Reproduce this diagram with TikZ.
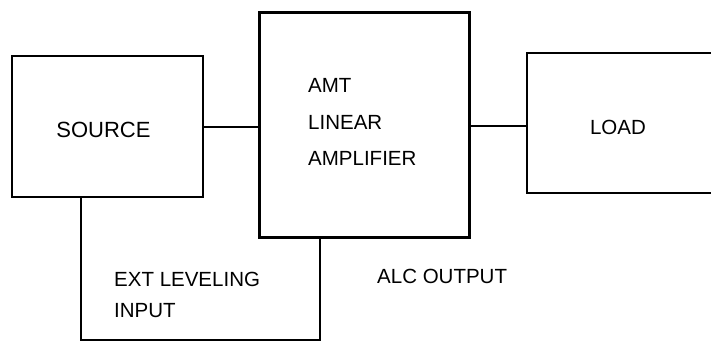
\documentclass[tikz,border=0pt]{standalone}
\usepackage{fontspec}
\setmainfont{Liberation Sans}
\begin{document}
\begin{tikzpicture}[x=1pt,y=-1pt,
  blk/.style={draw,line width=1.4pt,inner sep=0pt},
  ampblk/.style={draw,line width=3pt,inner sep=0pt},
  wire/.style={line width=1.4pt},
  txt/.style={font=\fontsize{20.5}{24}\selectfont,inner sep=0pt},
  lbl/.style={txt,anchor=west}]
\useasboundingbox (0,0) rectangle (711,343);
\clip (0,0) rectangle (711,343);
\node[blk,minimum width=191pt,minimum height=141pt] (src) at (107.5,126.5) {};
\node[ampblk,minimum width=210pt,minimum height=225pt] (amp) at (364,124.5) {};
\node[blk,minimum width=190pt,minimum height=140pt] (load) at (622,123) {};
\node[txt,font=\fontsize{22}{24}\selectfont] (srct) at (103.5,129.5) {SOURCE};
\node[txt] (loadt) at (618,127) {LOAD};
\node[lbl] (amt) at (308,85) {AMT};
\node[lbl] (lin) at (308,122) {LINEAR};
\node[lbl] (ampl) at (308,158) {AMPLIFIER};
\node[lbl] (ext) at (114,279.5) {EXT LEVELING};
\node[lbl] (inp) at (114,310.5) {INPUT};
\node[lbl] (alc) at (377,276.5) {ALC OUTPUT};
\coordinate (c1) at (81,340);
\coordinate (c2) at (320,340);
\draw[wire] (src.east |- 0,127) -- (amp.west |- 0,127);
\draw[wire] (amp.east |- 0,126) -- (load.west |- 0,126);
\draw[wire] (src.south -| c1) -- (c1) -- (c2) -- (amp.south -| c2);
\end{tikzpicture}
\end{document}
